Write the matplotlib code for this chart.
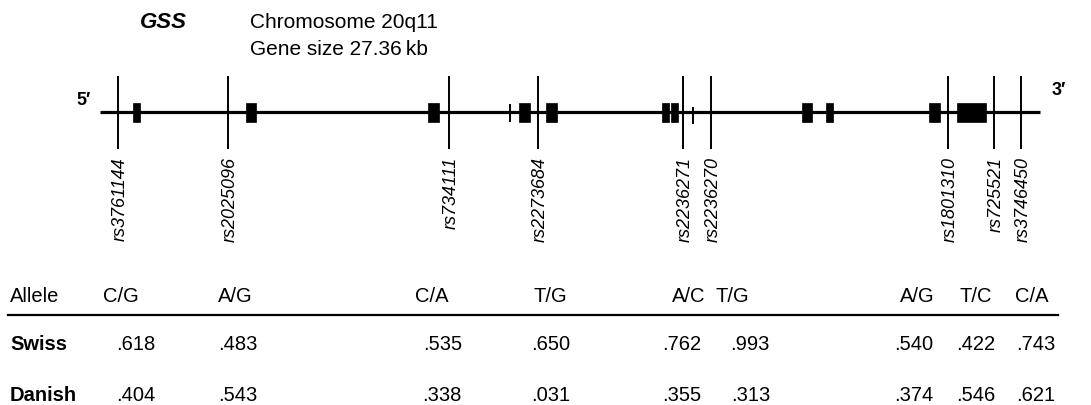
import matplotlib
matplotlib.use("Agg")
import matplotlib.pyplot as plt
from matplotlib.patches import Rectangle

# ---- data ----
gene_name = "GSS"
chrom_text = "Chromosome 20q11"
size_text = "Gene size 27.36\u2009kb"
gene_start, gene_end = 100, 1040
exon_start = [133, 246, 428, 519, 546, 662, 671, 802, 826, 929, 957]
exon_end = [140, 256, 439, 530, 557, 669, 678, 812, 833, 940, 986]
minor_marks = [510, 693]
snp_ids = ["rs3761144", "rs2025096", "rs734111", "rs2273684", "rs2236271",
           "rs2236270", "rs1801310", "rs725521", "rs3746450"]
snp_pos = [118, 228, 449, 538, 683, 711, 948, 994, 1021]
alleles = ["C/G", "A/G", "C/A", "T/G", "A/C", "T/G", "A/G", "T/C", "C/A"]
swiss = [".618", ".483", ".535", ".650", ".762", ".993", ".540", ".422", ".743"]
danish = [".404", ".543", ".338", ".031", ".355", ".313", ".374", ".546", ".621"]

# ---- layout ----
header_x = [103, 218, 415, 533, 672, 715, 900, 960, 1015]
value_right_x = [155, 257, 462, 570, 701, 770, 933, 995, 1055]

FONT = ["Liberation Sans", "DejaVu Sans"]
plt.rcParams["font.family"] = FONT

fig = plt.figure(figsize=(10.91, 4.06), dpi=100)
ax = fig.add_axes([0, 0, 1, 1])
ax.set_xlim(0, 1091)
ax.set_ylim(406, 0)
ax.axis("off")

line_y = 113
# gene backbone
ax.plot([gene_start, gene_end], [line_y, line_y], color="black", lw=2.3,
        solid_capstyle="butt", zorder=2)
# exons
for s, e in zip(exon_start, exon_end):
    ax.add_patch(Rectangle((s, line_y - 9), e - s, 19, facecolor="black",
                           edgecolor="black", lw=0.5, zorder=3))
# minor marks
ax.vlines(minor_marks[0], 105, 123, color="black", lw=1.4, zorder=3)
ax.vlines(minor_marks[1], 108, 125, color="black", lw=1.4, zorder=3)
# SNP lines + labels
for sid, x in zip(snp_ids, snp_pos):
    ax.vlines(x, 77, 150, color="black", lw=1.4, zorder=4)
    ax.text(x + 2.5, 157, sid, rotation=90, ha="center", va="top",
            fontsize=13, style="italic")

# header texts
ax.text(140, 28, gene_name, fontsize=16, weight="bold", style="italic",
        ha="left", va="baseline")
ax.text(250, 28, chrom_text, fontsize=15, ha="left", va="baseline")
ax.text(250, 55, size_text, fontsize=15, ha="left", va="baseline")
ax.text(76, 105, "5\u2032", fontsize=13, weight="bold", ha="left", va="baseline")
ax.text(1052, 95, "3\u2032", fontsize=13, weight="bold", ha="left", va="baseline")

# table
ts = 14.5
ax.text(10, 302, "Allele", fontsize=ts, ha="left", va="baseline")
ax.text(10, 350, "Swiss", fontsize=ts, weight="bold", ha="left", va="baseline")
ax.text(10, 401, "Danish", fontsize=ts, weight="bold", ha="left", va="baseline")
ax.plot([8, 1058], [316, 316], color="black", lw=1.6)
for a, hx in zip(alleles, header_x):
    ax.text(hx, 302, a, fontsize=ts, ha="left", va="baseline")
for sv, dv, rx in zip(swiss, danish, value_right_x):
    ax.text(rx, 350, sv, fontsize=ts, ha="right", va="baseline")
    ax.text(rx, 401, dv, fontsize=ts, ha="right", va="baseline")

fig.savefig("out.png", dpi=100, facecolor="white")
